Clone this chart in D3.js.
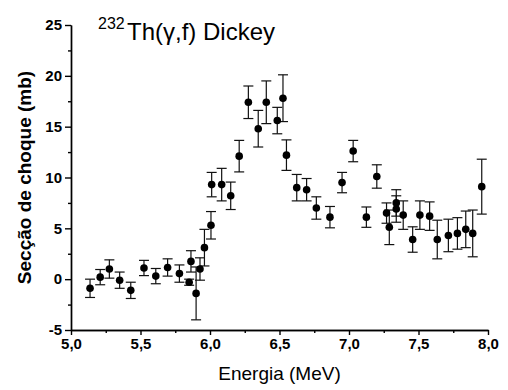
<!DOCTYPE html>
<html>
<head>
<meta charset="utf-8">
<script src="https://cdn.jsdelivr.net/npm/d3@7"></script>
<style>
  body { margin: 0; background: #fff; }
  svg text { font-family: "Liberation Sans", Arial, sans-serif; fill: #000; }
</style>
</head>
<body>
<svg id="chart"></svg>
<script>
// Photofission data
const energy = [5.137, 5.21, 5.276, 5.35, 5.43, 5.525, 5.61, 5.695, 5.78, 5.863,
  5.85, 5.9, 5.928, 5.96, 6.007, 6.012, 6.084, 6.149, 6.21, 6.276,
  6.347, 6.405, 6.484, 6.525, 6.55, 6.624, 6.695, 6.765, 6.863, 6.95,
  7.03, 7.125, 7.2, 7.27, 7.29, 7.34, 7.34, 7.39, 7.458, 7.51,
  7.58, 7.635, 7.715, 7.78, 7.84, 7.89, 7.955];
const crossSection = [-0.9, 0.2, 1.0, -0.1, -1.1, 1.1, 0.3, 1.15, 0.55, 1.75,
  -0.3, -1.4, 1.0, 3.1, 5.3, 9.3, 9.3, 8.2, 12.1, 17.4,
  14.8, 17.4, 15.6, 17.8, 12.2, 9.0, 8.8, 7.0, 6.1, 9.5,
  12.6, 6.1, 10.1, 6.5, 5.1, 7.5, 6.9, 6.3, 3.9, 6.3,
  6.2, 3.9, 4.3, 4.5, 4.9, 4.5, 9.1];
const crossErr = [0.9, 0.75, 0.9, 0.8, 0.8, 0.75, 0.75, 0.85, 0.85, 1.05,
  0.3, 2.6, 1.1, 1.8, 1.35, 1.2, 1.6, 1.35, 1.55, 1.6,
  1.8, 2.1, 1.3, 2.3, 1.5, 1.3, 1.1, 1.1, 1.05, 1.0,
  1.05, 1.0, 1.15, 1.0, 1.7, 1.3, 1.3, 1.4, 1.25, 1.4,
  1.4, 1.9, 1.6, 1.55, 1.8, 2.3, 2.7];

const xTicks = [5.0, 5.5, 6.0, 6.5, 7.0, 7.5, 8.0];
const xMinorTicks = [5.25, 5.75, 6.25, 6.75, 7.25, 7.75];
const yTicks = [-5, 0, 5, 10, 15, 20, 25];
const yMinorTicks = [-2.5, 2.5, 7.5, 12.5, 17.5, 22.5];

const width = 508;
const height = 390;
const margin = { top: 25, right: 20, bottom: 60, left: 71 };

const svg = d3.select('#chart')
  .attr('width', width)
  .attr('height', height);

const x = d3.scaleLinear()
  .domain([5, 8])
  .range([margin.left, width - margin.right]);

const y = d3.scaleLinear()
  .domain([-5, 25])
  .range([height - margin.bottom, margin.top]);

// comma as decimal separator
const locale = d3.formatLocale({ decimal: ',', thousands: '.', grouping: [3], currency: ['', ''], minus: '-' });
const fmtX = locale.format('.1f');
const fmtY = locale.format('d');

const y0 = y(-5);

// x axis
svg.append('g')
  .attr('transform', `translate(0,${y0})`)
  .call(d3.axisBottom(x).tickValues(xTicks).tickFormat(fmtX).tickSize(5).tickSizeOuter(0).tickPadding(3));
svg.append('g')
  .attr('transform', `translate(0,${y0})`)
  .call(d3.axisBottom(x).tickValues(xMinorTicks).tickFormat('').tickSize(3).tickSizeOuter(0));

// y axis
svg.append('g')
  .attr('transform', `translate(${x(5)},0)`)
  .call(d3.axisLeft(y).tickValues(yTicks).tickFormat(fmtY).tickSize(6).tickSizeOuter(0).tickPadding(3));
svg.append('g')
  .attr('transform', `translate(${x(5)},0)`)
  .call(d3.axisLeft(y).tickValues(yMinorTicks).tickFormat('').tickSize(3).tickSizeOuter(0));

svg.selectAll('.domain, .tick line')
  .attr('stroke', '#000')
  .attr('stroke-width', 1.4);

svg.selectAll('.tick text')
  .style('font-size', '15px')
  .style('font-weight', 'bold')
  .attr('fill', '#000');

// data
const pts = energy.map((e, i) => ({ e, s: crossSection[i], err: crossErr[i] }));
const cap = 5;

const bars = svg.append('g')
  .attr('stroke', '#111')
  .attr('stroke-width', 1.2)
  .attr('fill', 'none');

bars.selectAll('line.v')
  .data(pts)
  .enter().append('line')
  .attr('class', 'v')
  .attr('x1', d => x(d.e))
  .attr('x2', d => x(d.e))
  .attr('y1', d => y(d.s - d.err))
  .attr('y2', d => y(d.s + d.err));

bars.selectAll('line.top')
  .data(pts)
  .enter().append('line')
  .attr('class', 'top')
  .attr('x1', d => x(d.e) - cap)
  .attr('x2', d => x(d.e) + cap)
  .attr('y1', d => y(d.s + d.err))
  .attr('y2', d => y(d.s + d.err));

bars.selectAll('line.bot')
  .data(pts)
  .enter().append('line')
  .attr('class', 'bot')
  .attr('x1', d => x(d.e) - cap)
  .attr('x2', d => x(d.e) + cap)
  .attr('y1', d => y(d.s - d.err))
  .attr('y2', d => y(d.s - d.err));

svg.append('g')
  .selectAll('circle')
  .data(pts)
  .enter().append('circle')
  .attr('cx', d => x(d.e))
  .attr('cy', d => y(d.s))
  .attr('r', 3.8)
  .attr('fill', '#000');

// title
svg.append('text')
  .attr('x', 98)
  .attr('y', 29)
  .style('font-size', '16px')
  .text('232');
svg.append('text')
  .attr('x', 127)
  .attr('y', 40)
  .style('font-size', '24px')
  .text('Th(γ,f) Dickey');

// axis labels
svg.append('text')
  .attr('x', (x(5) + x(8)) / 2)
  .attr('y', 380)
  .attr('text-anchor', 'middle')
  .style('font-size', '19px')
  .text('Energia (MeV)');

svg.append('text')
  .attr('transform', `translate(31,${(y(-5) + y(25)) / 2}) rotate(-90)`)
  .attr('text-anchor', 'middle')
  .style('font-size', '19px')
  .style('font-weight', 'bold')
  .text('Secção de choque (mb)');
</script>
</body>
</html>
